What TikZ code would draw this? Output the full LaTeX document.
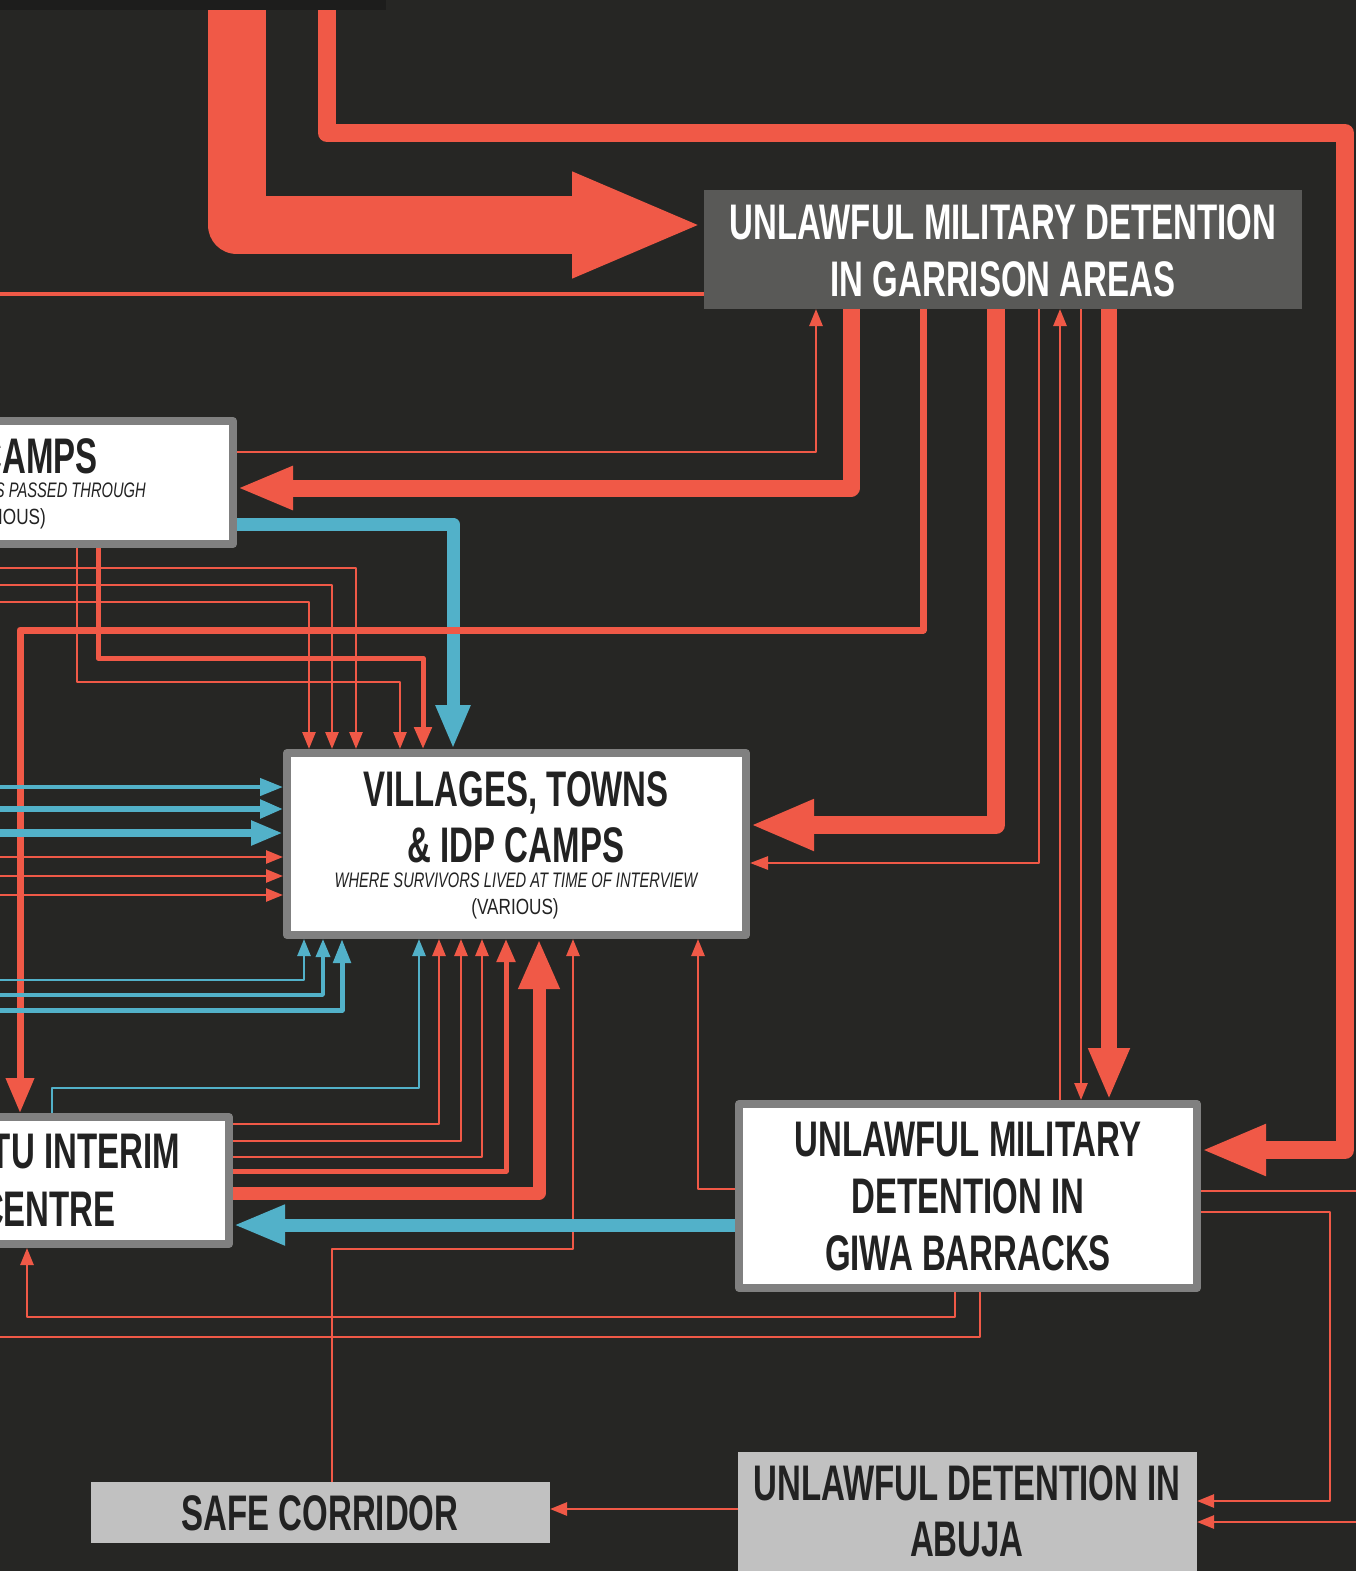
\documentclass[tikz,border=0pt]{standalone}
\usepackage{fontspec}
\newfontfamily\headfont[FakeStretch=0.66]{Liberation Sans}
\newfontfamily\subfont[FakeStretch=0.7]{Liberation Sans}
\newfontfamily\subupfont[FakeStretch=0.78]{Liberation Sans}
\usetikzlibrary{arrows.meta}
\definecolor{bg}{RGB}{38,38,36}
\definecolor{strip}{RGB}{29,29,28}
\definecolor{rd}{RGB}{240,89,71}
\definecolor{bl}{RGB}{82,177,201}
\definecolor{bord}{RGB}{128,128,128}
\definecolor{garr}{RGB}{89,89,87}
\definecolor{lgray}{RGB}{193,193,193}
\definecolor{txt}{RGB}{34,34,34}
\begin{document}
\begin{tikzpicture}[x=1pt,y=-1pt,line join=round,
  wbox/.style={draw=bord,line width=8pt,fill=white,inner sep=0pt,outer sep=4pt},
  gbox/.style={fill=lgray,inner sep=0pt,outer sep=0pt},
  dbox/.style={fill=garr,inner sep=0pt,outer sep=0pt},
  head/.style={font=\headfont\bfseries\fontsize{50}{57}\selectfont,text=txt,anchor=base,inner sep=0pt},
  subit/.style={font=\subfont\itshape\fontsize{21}{24}\selectfont,text=txt,anchor=base,inner sep=0pt},
  subup/.style={font=\subupfont\fontsize{22}{24}\selectfont,text=txt,anchor=base,inner sep=0pt},
  rthin/.style={draw=rd,line width=2.6pt},
  bthin/.style={draw=bl,line width=2.6pt},
  tipS/.style={-{Triangle[length=17pt,width=13pt]}},
]
\useasboundingbox (0,0) rectangle (1356,1571);
\clip (0,0) rectangle (1356,1571);
\fill[bg] (0,0) rectangle (1356,1571);

% boxes
\node[dbox,minimum width=598pt,minimum height=119pt] (garrison) at (1003,249.5) {};
\node[wbox,minimum width=333pt,minimum height=123pt] (camps) at (66.5,482.5) {};
\node[wbox,minimum width=459pt,minimum height=182pt] (villages) at (516.5,844) {};
\node[wbox,minimum width=329pt,minimum height=127pt] (interim) at (64.5,1180.5) {};
\node[wbox,minimum width=458pt,minimum height=184pt] (giwa) at (968,1196) {};
\node[gbox,minimum width=459pt,minimum height=61pt] (safe) at (320.5,1512.5) {};
\node[gbox,minimum width=459pt,minimum height=188pt] (abuja) at (967.5,1546) {};

% free ends
\coordinate (srcA) at (236.5,0);
\coordinate (srcB) at (327,0);
\coordinate (srcC) at (0,294);
\coordinate (l568) at (0,568);
\coordinate (l585) at (0,585);
\coordinate (l602) at (0,602);
\coordinate (l787) at (0,787);
\coordinate (l809) at (0,809);
\coordinate (l833) at (0,833);
\coordinate (l857) at (0,857);
\coordinate (l876) at (0,876);
\coordinate (l895) at (0,895);
\coordinate (l980) at (0,980);
\coordinate (l995) at (0,995);
\coordinate (l1010) at (0,1010);
\coordinate (l1337) at (0,1337);
\coordinate (r1191) at (1356,1191);
\coordinate (r1522) at (1356,1522);

% connectors
\draw[draw=rd,line width=58pt,-{Triangle[length=132pt,width=96pt]}] (srcA) |- (garrison.west |- 0,225);
\draw[draw=rd,line width=18pt,-{Triangle[length=65pt,width=47pt]}] (srcB) |- (1345,133) |- (giwa.east |- 0,1150);
\draw[draw=rd,line width=4.5pt] (srcC) -- (garrison.west |- srcC);
\draw[rthin,tipS] (camps.east |- 0,452) -| (garrison.south -| 816,0);
\draw[draw=rd,line width=17pt,-{Triangle[length=56pt,width=40pt]}] (garrison.south -| 851,0) |- (camps.east |- 0,488);
\draw[draw=bl,line width=13pt,-{Triangle[length=44pt,width=32pt]}] (camps.east |- 0,524) -| (villages.north -| 453,0);
\draw[draw=rd,line width=7pt,-{Triangle[length=35pt,width=27pt]}] (garrison.south -| 923,0) |- (20,630) -- (interim.north -| 20,0);
\draw[draw=rd,line width=18pt,-{Triangle[length=64pt,width=47pt]}] (garrison.south -| 996,0) |- (villages.east |- 0,825);
\draw[rthin,-{Triangle[length=18pt,width=13pt]}] (garrison.south -| 1039,0) |- (villages.east |- 0,863);
\draw[rthin,tipS] (giwa.north -| 1060,0) -- (garrison.south -| 1060,0);
\draw[rthin,tipS] (garrison.south -| 1081,0) -- (giwa.north -| 1081,0);
\draw[draw=rd,line width=16pt,-{Triangle[length=52pt,width=38pt]}] (garrison.south -| 1109,0) -- (giwa.north -| 1109,0);

\draw[rthin,tipS] (l602) -| (villages.north -| 309,0);
\draw[rthin,tipS] (l585) -| (villages.north -| 332,0);
\draw[rthin,tipS] (l568) -| (villages.north -| 356,0);
\draw[rthin,tipS] (camps.south -| 77,0) |- (400,682) -- (villages.north -| 400,0);
\draw[draw=rd,line width=5pt,-{Triangle[length=22pt,width=17pt]}] (camps.south -| 98,0) |- (423,658) -- (villages.north -| 423,0);

\draw[draw=bl,line width=4.3pt,-{Triangle[length=23pt,width=17pt]}] (l787) -- (villages.west |- l787);
\draw[draw=bl,line width=5.3pt,-{Triangle[length=23pt,width=18pt]}] (l809) -- (villages.west |- l809);
\draw[draw=bl,line width=8pt,-{Triangle[length=32pt,width=23pt]}] (l833) -- (villages.west |- l833);
\draw[rthin,tipS] (l857) -- (villages.west |- l857);
\draw[rthin,tipS] (l876) -- (villages.west |- l876);
\draw[rthin,tipS] (l895) -- (villages.west |- l895);

\draw[bthin,tipS] (l980) -| (villages.south -| 304,0);
\draw[draw=bl,line width=3.4pt,-{Triangle[length=18pt,width=14pt]}] (l995) -| (villages.south -| 323,0);
\draw[draw=bl,line width=5pt,-{Triangle[length=24pt,width=17pt]}] (l1010) -| (villages.south -| 342,0);
\draw[bthin,tipS] (interim.north -| 52,0) |- (419,1088) -- (villages.south -| 419,0);
\draw[rthin,tipS] (interim.east |- 0,1124) -| (villages.south -| 439,0);
\draw[rthin,tipS] (interim.east |- 0,1141) -| (villages.south -| 461,0);
\draw[rthin,tipS] (interim.east |- 0,1157) -| (villages.south -| 482,0);
\draw[draw=rd,line width=5pt,-{Triangle[length=23pt,width=18pt]}] (interim.east |- 0,1171) -| (villages.south -| 506,0);
\draw[draw=rd,line width=13pt,-{Triangle[length=50pt,width=38pt]}] (interim.east |- 0,1193) -| (villages.south -| 539,0);
\draw[rthin,tipS] (safe.north -| 332,0) |- (573,1249) -- (villages.south -| 573,0);
\draw[rthin,tipS] (giwa.west |- 0,1189) -| (villages.south -| 698,0);
\draw[draw=bl,line width=13pt,-{Triangle[length=52pt,width=37pt]}] (giwa.west |- 0,1225) -- (interim.east |- 0,1225);
\draw[rthin,tipS] (giwa.south -| 955,0) |- (27,1317) -- (interim.south -| 27,0);
\draw[rthin] (giwa.south -| 980,0) |- (l1337);
\draw[rthin] (giwa.east |- r1191) -- (r1191);
\draw[rthin,tipS] (giwa.east |- 0,1212) -| (1330,1501) -- (abuja.east |- 0,1501);
\draw[rthin,tipS] (r1522) -- (abuja.east |- r1522);
\draw[rthin,tipS] (abuja.west |- 0,1509) -- (safe.east |- 0,1509);

% texts
\node[head,text=white] (g1) at (1003,239) {UNLAWFUL MILITARY DETENTION};
\node[head,text=white] (g2) at (1003,296) {IN GARRISON AREAS};
\node[head] (v1) at (516,806) {VILLAGES, TOWNS};
\node[head] (v2) at (516,862) {\& IDP CAMPS};
\node[subit] (v3) at (516,887) {WHERE SURVIVORS LIVED AT TIME OF INTERVIEW};
\node[subup] (v4) at (515,914) {(VARIOUS)};
\node[head] (w1) at (968,1156) {UNLAWFUL MILITARY};
\node[head] (w2) at (968,1213) {DETENTION IN};
\node[head] (w3) at (968,1270) {GIWA BARRACKS};
\node[head] (s1) at (320,1530) {SAFE CORRIDOR};
\node[head] (a1) at (967,1500) {UNLAWFUL DETENTION IN};
\node[head] (a2) at (967,1556) {ABUJA};
\node[head,anchor=base east] (c1) at (98,473) {CAMPS};
\node[subit,anchor=base east] (c2) at (146,497) {S PASSED THROUGH};
\node[subup,anchor=base east] (c3) at (46,524) {(VARIOUS)};
\node[head,anchor=base east] (i1) at (180,1168) {TU INTERIM};
\node[head,anchor=base east] (i2) at (116,1226) {CENTRE};

% top strip
\fill[strip] (0,0) rectangle (386,10);
\end{tikzpicture}
\end{document}
